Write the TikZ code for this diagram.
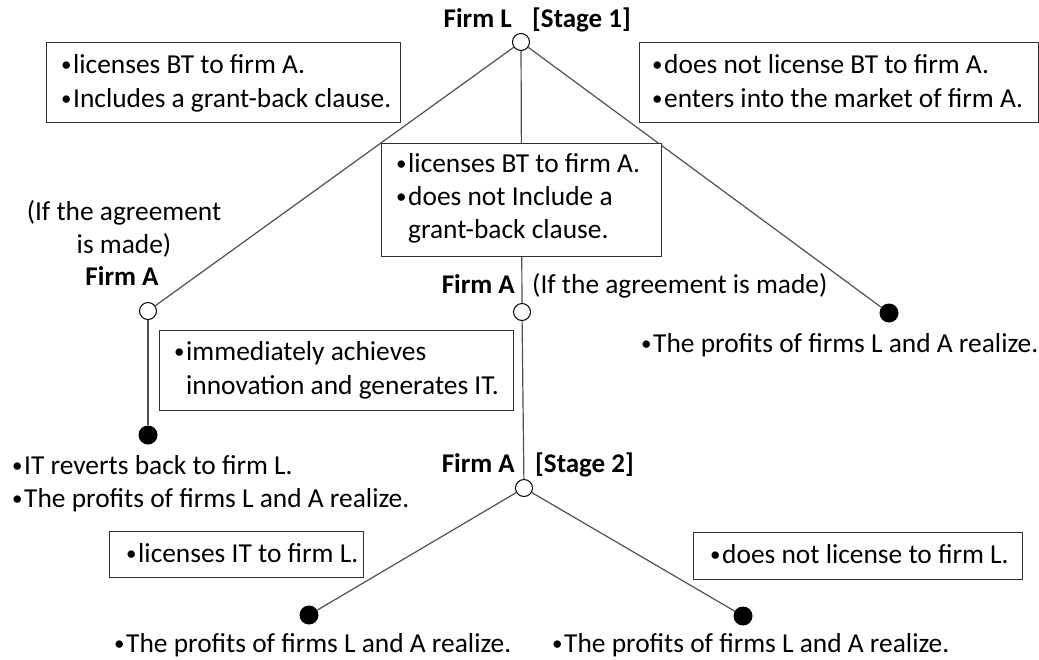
\documentclass[tikz,border=0pt]{standalone}
\usepackage{fontspec}
\setmainfont{Carlito}
\usepackage{xcolor}
\definecolor{edgegray}{HTML}{505050}
\definecolor{boxline}{HTML}{303030}
\newcommand{\bul}{\makebox[12pt][l]{\raisebox{1.5pt}{\fontsize{21}{21}\selectfont•}}}

\begin{document}
\begin{tikzpicture}[x=1pt,y=-1pt,
  font=\fontsize{27.4}{33.5}\selectfont,
  dec/.style={circle, draw=black, fill=white, line width=1pt, minimum size=17pt, inner sep=0pt},
  term/.style={circle, fill=black, minimum size=19pt, inner sep=0pt},
  edge/.style={edgegray, line width=1.2pt},
  box/.style={draw=boxline, line width=1.3pt, fill=white, anchor=north west, inner sep=0pt},
  txt/.style={anchor=base west, inner sep=0pt},
  firm/.style={inner sep=0pt, font=\fontsize{27}{33.5}\selectfont\bfseries}]
  \useasboundingbox (0,0) rectangle (1039,659);
  % Decision nodes (open) and end nodes (filled)
  \node[dec] (L) at (521,42) {};
  \node[dec] (A1) at (148,311) {};
  \node[dec] (A2) at (522,312) {};
  \node[dec] (A3) at (524,488) {};
  \node[term] (endR) at (889,313) {};
  \node[term] (endL) at (148,435) {};
  \node[term] (endBL) at (309,615) {};
  \node[term] (endBR) at (743,616) {};
  % Branches
  \draw[edge] (L) -- (A1);
  \draw[edge] (L) -- (A2);
  \draw[edge] (L) -- (endR);
  \draw[edge] (A1) -- (endL);
  \draw[edge] (A2) -- (A3);
  \draw[edge] (A3) -- (endBL);
  \draw[edge] (A3) -- (endBR);
  % Who moves
  \node[firm, anchor=base east] (firmL) at (512,27) {Firm L};
  \node[firm, anchor=base west] (stage1) at (532,27) {[Stage 1]};
  \node[anchor=base, inner sep=0pt] (ifA1a) at (124,220) {(If the agreement};
  \node[anchor=base, inner sep=0pt] (ifA1b) at (124,253) {is made)};
  \node[firm, anchor=base] (firmA1) at (122,285) {Firm A};
  \node[firm, anchor=base east] (firmA2) at (515,293) {Firm A};
  \node[txt] (ifA2) at (532,293) {(If the agreement is made)};
  \node[firm, anchor=base east] (firmA3) at (515,472) {Firm A};
  \node[firm, anchor=base west] (stage2) at (535,472) {[Stage 2]};
  % Action boxes, stage 1
  \node[box, minimum width=354pt, minimum height=80pt] (licGB) at (46,42) {};
  \node[txt] (licGB1) at (61,73) {\bul licenses BT to firm A.};
  \node[txt] (licGB2) at (61,107) {\bul Includes a grant-back clause.};
  \node[box, minimum width=399pt, minimum height=80pt] (noLic) at (639,42) {};
  \node[txt] (noLic1) at (652,73) {\bul does not license BT to firm A.};
  \node[txt] (noLic2) at (652,107) {\bul enters into the market of firm A.};
  \node[box, minimum width=280pt, minimum height=113pt] (licNoGB) at (381,143) {};
  \node[txt] (licNoGB1) at (396,172) {\bul licenses BT to firm A.};
  \node[txt] (licNoGB2) at (396,205) {\bul does not Include a};
  \node[txt] (licNoGB3) at (396,238) {\phantom{\bul}grant-back clause.};
  \node[box, minimum width=354pt, minimum height=80pt] (innov) at (159,330) {};
  \node[txt] (innov1) at (174,360) {\bul immediately achieves};
  \node[txt] (innov2) at (174,394) {\phantom{\bul}innovation and generates IT.};
  % Action boxes, stage 2
  \node[box, minimum width=254pt, minimum height=46pt] (licIT) at (109,531) {};
  \node[txt] (licIT1) at (126,562) {\bul licenses IT to firm L.};
  \node[box, minimum width=329pt, minimum height=47pt] (noLicIT) at (693,532) {};
  \node[txt] (noLicIT1) at (710,563) {\bul does not license to firm L.};
  % Outcomes
  \node[txt] (revert) at (12,474) {\bul IT reverts back to firm L.};
  \foreach \x/\y/\n in {641/352/payR, 12/507/payL, 114/652/payBL, 552/652/payBR}
    \node[txt] (\n) at (\x,\y) {\bul The profits of firms L and A realize.};
\end{tikzpicture}
\end{document}
